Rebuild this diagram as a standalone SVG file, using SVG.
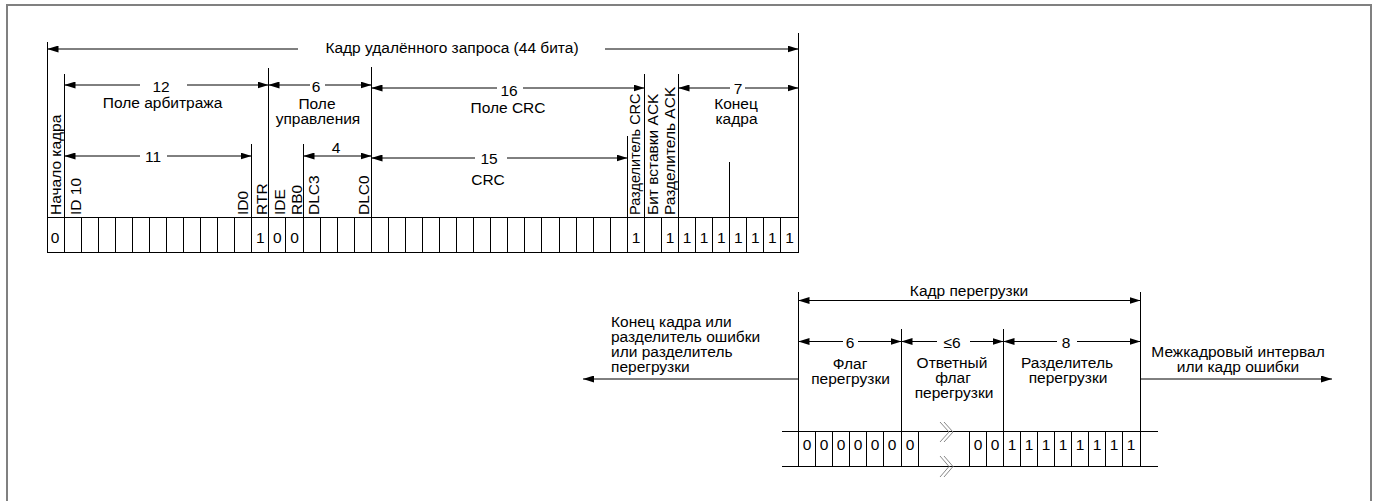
<svg xmlns="http://www.w3.org/2000/svg" width="1374" height="501" viewBox="0 0 1374 501">
<defs>
<style>
text{font-family:"Liberation Sans",Arial,sans-serif;font-size:15.5px;fill:#000}
.c{text-anchor:middle}
.sm{font-size:14.5px}
.ln{stroke:#000;stroke-width:1;fill:none}
.ar{stroke:#000;stroke-width:1;fill:none;marker-end:url(#ah)}
.ar2{stroke:#000;stroke-width:1;fill:none;marker-start:url(#ah);marker-end:url(#ah)}
.brk{stroke:#888;stroke-width:1;fill:none}
.frame{fill:none;stroke:#808080;stroke-width:2}
</style>
<marker id="ah" viewBox="0 0 11 7" refX="11" refY="3.5" markerWidth="11" markerHeight="7" markerUnits="userSpaceOnUse" orient="auto-start-reverse"><path d="M0,0L11,3.5L0,7z" fill="#000"/></marker>
</defs>
<rect class="frame" x="7" y="5" width="1364" height="510"/>

<g id="remote-frame">
<g id="title">
<text class="c" x="452" y="53">Кадр удалённого запроса (44 бита)</text>
</g>
<g id="field-labels">
<text class="c" x="161" y="91.5">12</text>
<text class="c" x="162.5" y="107.5">Поле арбитража</text>
<text class="c" x="316" y="91.5">6</text>
<text class="c" x="317" y="108.5">Поле</text>
<text class="c" x="318" y="123.5">управления</text>
<text class="c" x="509" y="95.5">16</text>
<text class="c" x="508" y="113">Поле CRC</text>
<text class="c" x="738" y="93.5">7</text>
<text class="c" x="736" y="109">Конец</text>
<text class="c" x="736.5" y="123.5">кадра</text>
<text class="c" x="153" y="162">11</text>
<text class="c" x="336" y="153">4</text>
<text class="c" x="489" y="164">15</text>
<text class="c" x="488" y="185">CRC</text>
</g>
<g id="bit-names">
<text transform="translate(60.7,215) rotate(-90)">Начало кадра</text>
<text transform="translate(80.7,215) rotate(-90)">ID 10</text>
<text transform="translate(248,215) rotate(-90)">ID0</text>
<text transform="translate(267,215) rotate(-90)">RTR</text>
<text transform="translate(285,215) rotate(-90)">IDE</text>
<text transform="translate(301.5,215) rotate(-90)">RB0</text>
<text transform="translate(318.7,215) rotate(-90)">DLC3</text>
<text transform="translate(369.3,215) rotate(-90)">DLC0</text>
<text class="sm" transform="translate(640,215) rotate(-90)">Разделитель CRC</text>
<text transform="translate(657.5,215) rotate(-90)">Бит вставки ACK</text>
<text transform="translate(675,215) rotate(-90)">Разделитель ACK</text>
</g>
<g id="bit-row">
<path class="ln" d="M47.5,217.5H798.5M47.5,252.5H798.5"/>
<path class="ln" d="M47.5,217.5V253M64.5,217.5V253M81.5,217.5V253M98.5,217.5V253M115.5,217.5V253M132.5,217.5V253M149.5,217.5V253M166.5,217.5V253M183.5,217.5V253M200.5,217.5V253M217.5,217.5V253M234.5,217.5V253M251.5,217.5V253M268.5,217.5V253M285.5,217.5V253M303.5,217.5V253M320.5,217.5V253M337.5,217.5V253M354.5,217.5V253M371.5,217.5V253M388.5,217.5V253M405.5,217.5V253M422.5,217.5V253M439.5,217.5V253M456.5,217.5V253M473.5,217.5V253M490.5,217.5V253M507.5,217.5V253M524.5,217.5V253M541.5,217.5V253M559.5,217.5V253M576.5,217.5V253M593.5,217.5V253M610.5,217.5V253M627.5,217.5V253M644.5,217.5V253M661.5,217.5V253M678.5,217.5V253M695.5,217.5V253M712.5,217.5V253M729.5,217.5V253M746.5,217.5V253M763.5,217.5V253M780.5,217.5V253M798.5,217.5V253"/>
<text class="c" x="55" y="243.3">0</text>
<text class="c" x="260.4" y="243.3">1</text>
<text class="c" x="277.4" y="243.3">0</text>
<text class="c" x="294.5" y="243.3">0</text>
<text class="c" x="636" y="243.3">1</text>
<text class="c" x="670" y="243.3">1</text>
<text class="c" x="687.1" y="243.3">1</text>
<text class="c" x="704.1" y="243.3">1</text>
<text class="c" x="721.2" y="243.3">1</text>
<text class="c" x="738.3" y="243.3">1</text>
<text class="c" x="755.3" y="243.3">1</text>
<text class="c" x="772.4" y="243.3">1</text>
<text class="c" x="789.5" y="243.3">1</text>
</g>
</g>

<g id="overload-frame">
<g id="ov-labels">
<text class="c" x="969" y="296">Кадр перегрузки</text>
<text class="c" x="850" y="348">6</text>
<text class="c" x="952" y="348">≤6</text>
<text class="c" x="1066" y="348">8</text>
<text class="c" x="850" y="368.5">Флаг</text>
<text class="c" x="850.5" y="383.5">перегрузки</text>
<text class="c" x="952" y="368">Ответный</text>
<text class="c" x="953" y="383">флаг</text>
<text class="c" x="954" y="398">перегрузки</text>
<text class="c" x="1067" y="368">Разделитель</text>
<text class="c" x="1068" y="383">перегрузки</text>
<text class="c" x="1238" y="357">Межкадровый интервал</text>
<text class="c" x="1238" y="372">или кадр ошибки</text>
<text x="611" y="326.5">Конец кадра или</text>
<text x="611" y="341.5">разделитель ошибки</text>
<text x="611" y="356.5">или разделитель</text>
<text x="611" y="371.5">перегрузки</text>
</g>
<g id="ov-bit-row">
<path class="ln" d="M782,431.5H1158M782,466.5H1158"/>
<path class="ln" d="M798.5,431.5V466.5M815.5,431.5V466.5M832.5,431.5V466.5M849.5,431.5V466.5M866.5,431.5V466.5M883.5,431.5V466.5M901.5,431.5V466.5M918.5,431.5V466.5M969.5,431.5V466.5M986.5,431.5V466.5M1003.5,431.5V466.5M1020.5,431.5V466.5M1037.5,431.5V466.5M1054.5,431.5V466.5M1071.5,431.5V466.5M1088.5,431.5V466.5M1105.5,431.5V466.5M1122.5,431.5V466.5M1140.5,431.5V466.5"/>
<path class="brk" d="M940,422L949,432L940,442M944,422L953,432L944,442M940,456L949,466.5L940,477M944,456L953,466.5L944,477"/>
<text class="c" x="807" y="450">0</text>
<text class="c" x="824" y="450">0</text>
<text class="c" x="841" y="450">0</text>
<text class="c" x="858" y="450">0</text>
<text class="c" x="875" y="450">0</text>
<text class="c" x="892" y="450">0</text>
<text class="c" x="910" y="450">0</text>
<text class="c" x="978" y="450">0</text>
<text class="c" x="995" y="450">0</text>
<text class="c" x="1012" y="450">1</text>
<text class="c" x="1029" y="450">1</text>
<text class="c" x="1046" y="450">1</text>
<text class="c" x="1063" y="450">1</text>
<text class="c" x="1080" y="450">1</text>
<text class="c" x="1097" y="450">1</text>
<text class="c" x="1114" y="450">1</text>
<text class="c" x="1131" y="450">1</text>
</g>
</g>

<g id="connectors">
<path class="ln" d="M47.5,42V253M798.5,33V253M64.5,74V217.5M268.5,68V217.5M371.5,67V217.5M644.5,74V217.5M678.5,74V217.5M251.5,144V217.5M303.5,144V217.5M627.5,136V217.5M729.5,162V217.5"/>
<path class="ar" d="M298,49H47.5"/>
<path class="ar" d="M605,49H798.5"/>
<path class="ar" d="M140,85H64.5"/>
<path class="ar" d="M187,85H268.5"/>
<path class="ar" d="M310,85H268.5"/>
<path class="ar" d="M325,85H371.5"/>
<path class="ar" d="M497,88H371.5"/>
<path class="ar" d="M523,88H644.5"/>
<path class="ar" d="M730,88H678.5"/>
<path class="ar" d="M745,88H798.5"/>
<path class="ar" d="M140,156H64.5"/>
<path class="ar" d="M167,156H251.5"/>
<path class="ar2" d="M303.5,156H371.5"/>
<path class="ar" d="M475,158H371.5"/>
<path class="ar" d="M507,158H627.5"/>
<path class="ln" d="M798.5,292V466.5M1140.5,292V466.5M901.5,329V466.5M1003.5,329V466.5"/>
<path class="ar2" d="M798.5,300.5H1140.5"/>
<path class="ar" d="M843,341.5H798.5"/>
<path class="ar" d="M858,341.5H901.5"/>
<path class="ar" d="M937,341.5H901.5"/>
<path class="ar" d="M970,341.5H1003.5"/>
<path class="ar" d="M1057,341.5H1003.5"/>
<path class="ar" d="M1077,341.5H1140.5"/>
<path class="ar" d="M798.5,379H583"/>
<path class="ar" d="M1140.5,379H1332"/>
</g>
</svg>
